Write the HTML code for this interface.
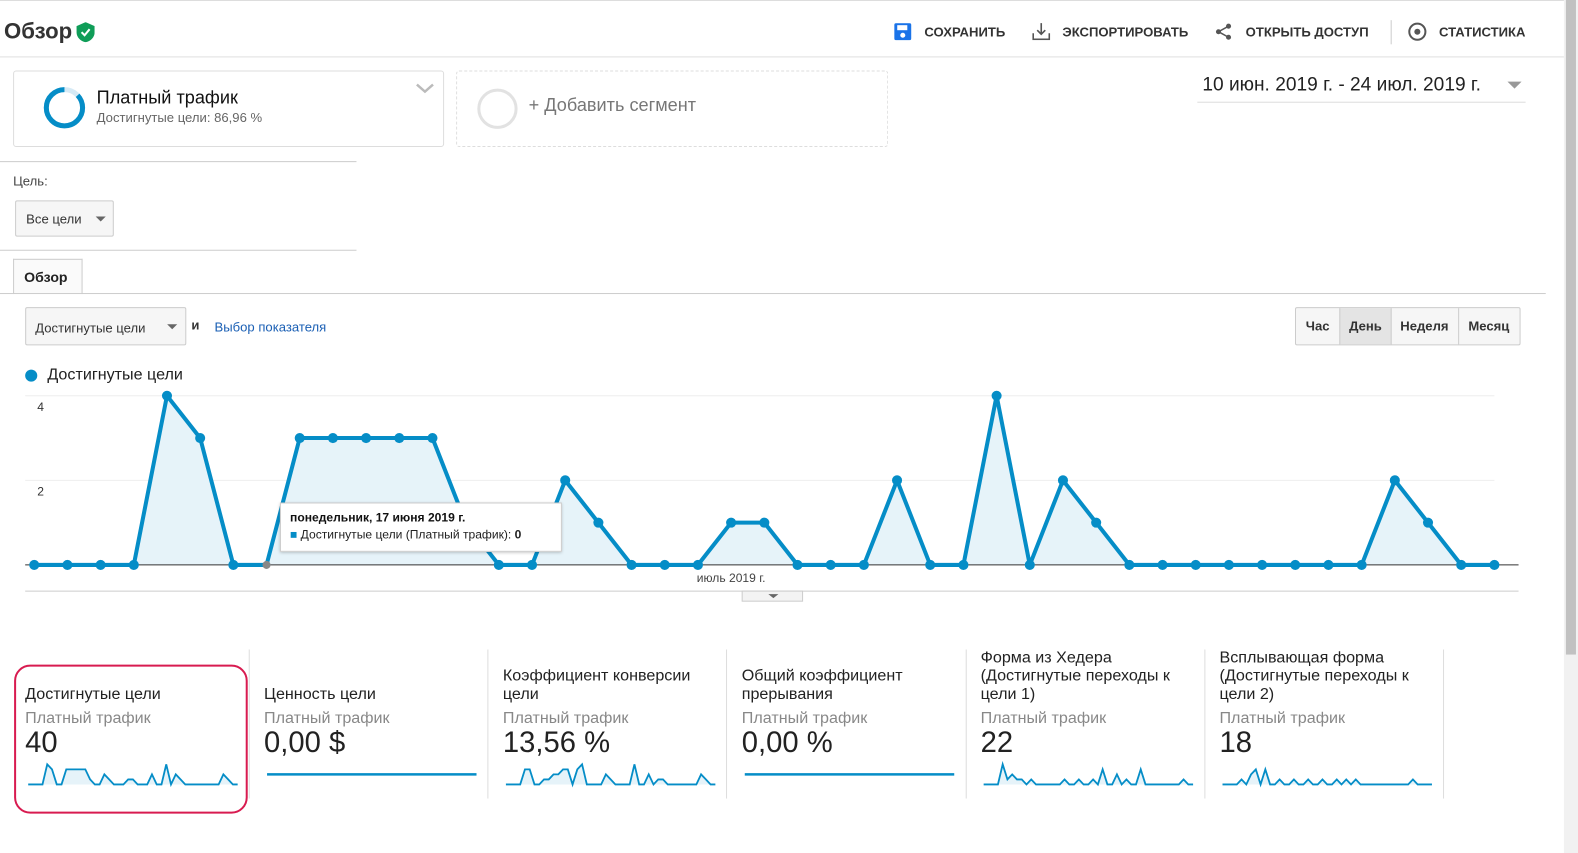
<!DOCTYPE html>
<html style="overflow:hidden;width:1578px;height:853px"><head><meta charset="utf-8">
<style>
html,body{overflow:hidden}
body{margin:0;width:1578px;height:853px;background:#fff;font-family:"Liberation Sans","Noto Sans CJK SC",sans-serif;position:relative;color:#222}
.a{position:absolute}
.btn{position:absolute;font-size:13px;font-weight:bold;color:#333}
.sc-t{font-size:16px;color:#222;line-height:18px}
.sc-s{font-size:16px;color:#888}
.sc-v{font-size:29px;color:#222}
#page{transform:scale(1.007);transform-origin:0 0}
</style></head><body>
<div id="page" class="a" style="left:0;top:0;width:1568px;height:848px;overflow:hidden">
<div class="a" style="left:0;top:0;width:1556px;height:57px;border-bottom:1px solid #e0e0e0;border-top:1px solid #ddd;box-sizing:border-box"></div>
<div class="a" style="left:4px;top:18px;font-size:22px;font-weight:bold;color:#333">Обзор</div>
<svg class="a" style="left:76px;top:22px" width="18" height="20"><path d="M9 0L18 4V10C18 15 14 19 9 20C4 19 0 15 0 10V4Z" fill="#0f9d58"/><path d="M5 10L8 13L13 7" stroke="#fff" stroke-width="2" fill="none"/></svg>
<svg class="a" style="left:888px;top:23px" width="17" height="17"><rect width="17" height="17" rx="2" fill="#1a73e8"/><rect x="3" y="2" width="10" height="5" fill="#fff"/><circle cx="8.5" cy="12" r="2.5" fill="#fff"/></svg>
<div class="btn" style="left:918px;top:24px">СОХРАНИТЬ</div>
<svg class="a" style="left:1025px;top:22px" width="18" height="18"><path d="M9 1V12M5 8L9 12L13 8M1 11V17H17V11" stroke="#555" stroke-width="1.6" fill="none"/></svg>
<div class="btn" style="left:1055px;top:24px">ЭКСПОРТИРОВАТЬ</div>
<svg class="a" style="left:1207px;top:23px" width="17" height="17"><circle cx="13" cy="3" r="2.5" fill="#555"/><circle cx="3" cy="8.5" r="2.5" fill="#555"/><circle cx="13" cy="14" r="2.5" fill="#555"/><path d="M13 3L3 8.5L13 14" stroke="#555" stroke-width="1.5" fill="none"/></svg>
<div class="btn" style="left:1237px;top:24px">ОТКРЫТЬ ДОСТУП</div>
<div class="a" style="left:1381px;top:20px;width:1px;height:24px;background:#ccc"></div>
<svg class="a" style="left:1398px;top:22px" width="19" height="19"><circle cx="9.5" cy="9.5" r="8" stroke="#555" stroke-width="2" fill="none"/><circle cx="9.5" cy="9.5" r="3" fill="#555"/></svg>
<div class="btn" style="left:1429px;top:24px">СТАТИСТИКА</div>
<div class="a" style="left:1553px;top:0;width:15px;height:853px;background:#f1f1f1"><div style="position:absolute;left:2px;top:0;width:10px;height:650px;background:#c1c1c1"></div></div>

<div class="a" style="left:13px;top:70px;width:428px;height:76px;border:1px solid #ddd;border-radius:3px;box-sizing:border-box"></div>
<svg class="a" style="left:42px;top:85px" width="44" height="44"><circle cx="22" cy="22" r="18" stroke="#d6eaf5" stroke-width="5" fill="none"/><circle cx="22" cy="22" r="18" stroke="#058dc7" stroke-width="5" fill="none" stroke-dasharray="98.3 200" transform="rotate(-90 22 22) scale(1,-1) translate(0,-44)"/></svg>
<div class="a" style="left:96px;top:87px;font-size:18px;color:#111">Платный трафик</div>
<div class="a" style="left:96px;top:109px;font-size:13px;color:#666">Достигнутые цели: 86,96 %</div>
<svg class="a" style="left:413px;top:82px" width="18" height="12"><path d="M1 2L9 9L17 2" stroke="#bbb" stroke-width="2.5" fill="none"/></svg>
<div class="a" style="left:453px;top:70px;width:429px;height:76px;border:1px dashed #ddd;border-radius:3px;box-sizing:border-box"></div>
<div class="a" style="left:474px;top:88px;border:3px solid #e2e2e2;border-radius:50%;box-sizing:border-box;width:40px;height:40px"></div>
<div class="a" style="left:525px;top:94px;font-size:18px;color:#777">+ Добавить сегмент</div>
<div class="a" style="left:1189px;top:73px;width:326px;height:28px;border-bottom:1px solid #ddd"></div>
<div class="a" style="left:1194px;top:74px;font-size:19px;color:#222">10 июн. 2019 г. - 24 июл. 2019 г.</div>
<div class="a" style="left:1497px;top:81px;width:0;height:0;border-left:7px solid transparent;border-right:7px solid transparent;border-top:7px solid #999"></div>

<div class="a" style="left:0;top:160px;width:354px;height:1px;background:#ccc"></div>
<div class="a" style="left:13px;top:172px;font-size:13px;color:#444">Цель:</div>
<div class="a" style="left:15px;top:199px;width:98px;height:36px;border:1px solid #ccc;border-radius:2px;background:#f6f6f6;box-sizing:border-box"><span style="position:absolute;left:10px;top:10px;font-size:13px;color:#333">Все цели</span><span style="position:absolute;left:79px;top:15px;border-left:5px solid transparent;border-right:5px solid transparent;border-top:5px solid #666"></span></div>
<div class="a" style="left:0;top:248px;width:354px;height:1px;background:#ccc"></div>
<div class="a" style="left:13px;top:257px;width:69px;height:35px;border:1px solid #ccc;border-bottom:none;background:#fafafa;box-sizing:border-box"><span style="position:absolute;left:10px;top:9px;font-size:14px;font-weight:bold;color:#222">Обзор</span></div>
<div class="a" style="left:0;top:291px;width:1535px;height:1px;background:#ccc"></div>

<div class="a" style="left:25px;top:305px;width:160px;height:38px;border:1px solid #ccc;border-radius:2px;background:#f6f6f6;box-sizing:border-box"><span style="position:absolute;left:9px;top:12px;font-size:13px;color:#333">Достигнутые цели</span><span style="position:absolute;left:140px;top:16px;border-left:5px solid transparent;border-right:5px solid transparent;border-top:5px solid #666"></span></div>
<div class="a" style="left:190px;top:315px;font-size:13px;font-weight:bold;color:#333">и</div>
<div class="a" style="left:213px;top:317px;font-size:13px;color:#1a5fb4">Выбор показателя</div>
<div class="a" style="left:1286px;top:305px;width:224px;height:38px;border:1px solid #ccc;border-radius:2px;background:#f6f6f6;box-sizing:border-box;font-size:13px;font-weight:bold;color:#333">
<span style="position:absolute;left:0;top:0;width:43px;height:36px;line-height:36px;text-align:center">Час</span>
<span style="position:absolute;left:43px;top:0;width:50px;height:36px;line-height:36px;text-align:center;background:#e4e4e4;border-left:1px solid #ccc;border-right:1px solid #ccc">День</span>
<span style="position:absolute;left:94px;top:0;width:67px;height:36px;line-height:36px;text-align:center;border-right:1px solid #ccc">Неделя</span>
<span style="position:absolute;left:161px;top:0;width:61px;height:36px;line-height:36px;text-align:center">Месяц</span>
</div>

<div class="a" style="left:25px;top:367px;width:12px;height:12px;border-radius:50%;background:#058dc7"></div>
<div class="a" style="left:47px;top:364px;font-size:16px;color:#222">Достигнутые цели</div>

<svg id="chart" class="a" style="left:0;top:380px" width="1540" height="230"></svg>

<div class="a" style="left:278px;top:499px;width:278px;height:47px;background:#fff;border:1px solid #ccc;box-shadow:0 1px 3px rgba(0,0,0,.25)">
<div style="position:absolute;left:9px;top:7px;font-size:12px;font-weight:bold;color:#111">понедельник, 17 июня 2019 г.</div>
<div style="position:absolute;left:9px;top:24px;font-size:12px;color:#222"><span style="color:#058dc7">■</span> Достигнутые цели (Платный трафик): <b>0</b></div>
</div>

<div class="a" style="left:14px;top:660px;width:232px;height:148px;border:2px solid #d81b50;border-radius:16px;box-sizing:border-box"></div>
<div id="cards"></div>
<svg id="sparks" class="a" style="left:0;top:740px" width="1450" height="60"></svg>
</div>
<script>
const days = ['10','11','12','13','14','15','16','17','18','19','20','21','22','23','24','25','26','27','28','29','30','1','2','3','4','5','6','7','8','9','10','11','12','13','14','15','16','17','18','19','20','21','22','23','24'];
const goals = [0,0,0,0,4,3,0,0,3,3,3,3,3,1,0,0,2,1,0,0,0,1,1,0,0,0,2,0,0,4,0,2,1,0,0,0,0,0,0,0,0,2,1,0,0];
const yTicks = [2,4];
const xLabel = 'июль 2019 г.';
const cardTitles = ['Достигнутые цели','Ценность цели','Коэффициент конверсии цели','Общий коэффициент прерывания','Форма из Хедера (Достигнутые переходы к цели 1)','Всплывающая форма (Достигнутые переходы к цели 2)'];
const cardValues = ['40','0,00 $','13,56 %','0,00 %','22','18'];
const spark1 = goals;
const spark2 = new Array(45).fill(0);
const spark3 = [0,0,0,0,3,3,0,0,1,1,2,2,3,3,0,3,4,0,0,0,0,2,1,0,0,0,0,4,0,0,2,0,1,1,0,0,0,0,0,0,0,2,1,0,0];
const spark4 = new Array(45).fill(0);
const spark5 = [0,0,0,0,4,1,2,1,1,0,1,0,0,0,0,0,0,1,0,0,1,0,0,1,0,3,0,0,2,0,1,0,0,3,0,0,0,0,0,0,0,0,1,0,0];
const spark6 = [0,0,0,0,1,0,2,3,0,3,0,0,1,0,0,1,0,0,1,0,0,1,0,0,1,0,1,0,1,0,0,0,0,0,0,0,0,0,0,0,1,0,0,0,0];
const sparks = [spark1,spark2,spark3,spark4,spark5,spark6];

const NS='http://www.w3.org/2000/svg';
function mk(tag,attrs,parent){const e=document.createElementNS(NS,tag);for(const k in attrs)e.setAttribute(k,attrs[k]);parent.appendChild(e);return e;}
const svg=document.getElementById('chart');
const x0=34,x1=1484,yBase=181,unit=42;
const xs=i=>x0+i*(x1-x0)/(goals.length-1);
const ys=v=>yBase-v*unit;
yTicks.forEach(t=>{
  const g=mk('line',{x1:25,x2:1484,y1:ys(t),y2:ys(t),stroke:'#eee'},svg);
  
  
  const tx=mk('text',{x:37,y:ys(t)+15,'font-size':12,fill:'#333'},svg);
  tx.textContent=t;
  
  
});
let pts=goals.map((v,i)=>xs(i)+','+ys(v)).join(' ');
const area=mk('polygon',{points:xs(0)+','+yBase+' '+pts+' '+xs(goals.length-1)+','+yBase,fill:'#e6f3f9'},svg);


const base=mk('line',{x1:25,x2:1508,y1:yBase,y2:yBase,stroke:'#333','stroke-width':1},svg);


const ln=mk('polyline',{points:pts,fill:'none',stroke:'#058dc7','stroke-width':4,'stroke-linejoin':'round'},svg);


goals.forEach((v,i)=>{
  const c=mk('circle',{cx:xs(i),cy:ys(v),r:i===7?4:5,fill:i===7?'#888':'#058dc7'},svg);
  
  
});
const xl=mk('text',{x:xs(21),y:yBase+17,'font-size':12,fill:'#444','text-anchor':'middle'},svg);
xl.textContent=xLabel;


mk('line',{x1:25,x2:1508,y1:207,y2:207,stroke:'#ccc'},svg);
const handle=mk('rect',{x:737,y:207,width:60,height:10,fill:'#f3f3f3',stroke:'#ccc'},svg);


mk('path',{d:'M763 210L773 210L768 214Z',fill:'#666'},svg);

const cards=document.getElementById('cards');
cardTitles.forEach((t,i)=>{
  const left=25+i*237.2;
  const d=document.createElement('div');
  d.className='a';
  d.style.cssText='left:'+left+'px;top:645px;width:215px;height:150px';
  
  
  d.innerHTML='<div class="a sc-t" style="left:0;bottom:96px;width:210px">'+t+'</div><div class="a sc-s" style="left:0;top:60px">Платный трафик</div><div class="a sc-v" style="left:0;top:77px">'+cardValues[i]+'</div>';
  cards.appendChild(d);
  const s=document.createElement('div');
  s.className='a';
  s.style.cssText='left:'+(left+222)+'px;top:645px;width:1px;height:148px;background:#ddd';
  
  
  cards.appendChild(s);
});
const sp=document.getElementById('sparks');
sparks.forEach((arr,k)=>{
  const sx0=28+k*237.2,w=208,sb=39,su=5;
  const sxs=i=>sx0+i*w/(arr.length-1);
  const p=arr.map((v,i)=>sxs(i)+','+(sb-v*su)).join(' ');
  const flat=arr.every(v=>v===0);
  if(!flat){
    const ar=mk('polygon',{points:sx0+','+sb+' '+p+' '+(sx0+w)+','+sb,fill:'#e6f3f9'},sp);
    
    
  }
  const pl=mk('polyline',{points:flat?arr.map((v,i)=>sxs(i)+','+(sb-10)).join(' '):p,fill:'none',stroke:'#058dc7','stroke-width':flat?2.5:1.8},sp);
  
  
});
</script>
</body></html>
